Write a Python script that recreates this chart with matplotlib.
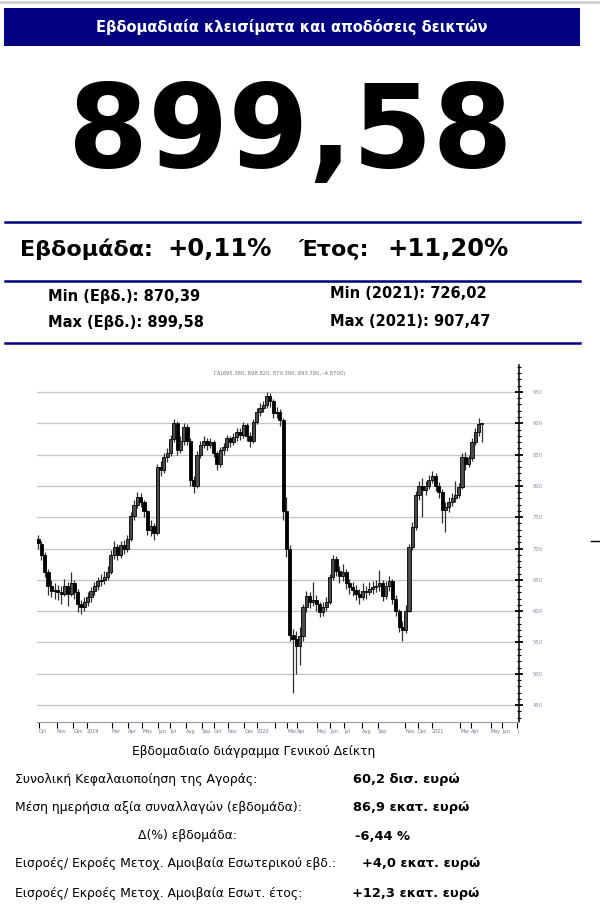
import numpy as np
import matplotlib
matplotlib.use('Agg')
import matplotlib.pyplot as plt
from matplotlib.lines import Line2D
from matplotlib.patches import Rectangle
from matplotlib.ticker import MultipleLocator

# weekly OHLC of the general index, oldest first
first_open = 715
closes = [708, 690, 662, 640, 632, 633, 630, 628, 640, 628,
          645, 630, 612, 606, 615, 622, 632, 640, 648, 650,
          655, 663, 690, 702, 690, 705, 700, 715, 752, 770,
          782, 774, 760, 730, 736, 724, 830, 825, 846, 852,
          875, 900, 858, 872, 894, 872, 809, 800, 850, 866,
          872, 865, 870, 852, 835, 857, 862, 876, 870, 878,
          886, 882, 897, 880, 872, 902, 918, 925, 929, 943,
          935, 916, 918, 905, 760, 700, 562, 555, 545, 560,
          606, 624, 615, 618, 611, 598, 606, 615, 655, 684,
          664, 656, 662, 645, 638, 634, 628, 622, 632, 630,
          636, 638, 640, 645, 624, 640, 648, 620, 600, 574,
          570, 600, 702, 735, 785, 800, 793, 800, 810, 816,
          800, 790, 761, 766, 775, 780, 786, 798, 846, 835,
          845, 870, 886, 898.6, 899.58]
highs = [722, 712, 694, 668, 650, 645, 642, 640, 652, 646,
         662, 650, 635, 618, 622, 630, 638, 646, 655, 660,
         664, 672, 698, 712, 708, 712, 714, 722, 758, 778,
         790, 788, 778, 762, 745, 740, 835, 840, 852, 860,
         882, 906, 904, 880, 900, 898, 876, 815, 856, 872,
         880, 876, 877, 874, 856, 862, 868, 882, 880, 885,
         892, 892, 902, 900, 886, 906, 924, 932, 936, 950,
         948, 938, 926, 922, 908, 782, 705, 572, 568, 575,
         612, 632, 630, 646, 626, 615, 614, 622, 660, 690,
         688, 672, 675, 668, 652, 646, 642, 636, 645, 640,
         646, 648, 650, 665, 650, 648, 656, 652, 626, 604,
         585, 610, 708, 742, 792, 808, 812, 808, 818, 824,
         820, 806, 795, 775, 782, 788, 808, 804, 852, 854,
         850, 876, 892, 908, 899.58]
lows = [700, 682, 655, 625, 622, 620, 618, 612, 624, 608,
        624, 620, 598, 596, 600, 608, 615, 626, 634, 640,
        644, 650, 660, 684, 682, 685, 692, 695, 712, 745,
        764, 766, 750, 722, 720, 714, 722, 815, 820, 838,
        848, 870, 850, 852, 866, 866, 800, 788, 796, 845,
        860, 858, 860, 846, 826, 830, 850, 856, 862, 865,
        872, 874, 876, 872, 862, 868, 898, 912, 918, 925,
        926, 908, 908, 896, 745, 686, 553, 469, 500, 514,
        552, 598, 605, 608, 600, 590, 592, 600, 612, 650,
        656, 645, 648, 636, 628, 624, 618, 612, 618, 620,
        625, 628, 630, 632, 616, 620, 632, 612, 592, 566,
        553, 565, 598, 698, 730, 778, 750, 785, 795, 804,
        792, 780, 740, 726, 758, 768, 774, 780, 795, 826,
        830, 840, 865, 880, 870.39]

# x axis month labels and their week positions
tick_weeks = [0.3, 5.7, 10.6, 14.8, 22.3, 27.2, 31.4, 36.2, 39.8, 44.7,
              49.5, 53.1, 57.3, 62.2, 66.1, 71.5, 75.2, 78.2, 84.2, 88.1,
              92.4, 97.8, 102.6, 110.8, 114.7, 118.9, 127.4, 130.7, 136.7,
              140.1, 144.6]
tick_names = ['Oct', 'Nov', 'Dec', '2019', 'Mar', 'Apr', 'May', 'Jun', 'Jul',
              'Aug', 'Sep', 'Oct', 'Nov', 'Dec', '2020', '', 'Mar', 'Apr',
              'May', 'Jun', 'Jul', 'Aug', 'Sep', 'Nov', 'Dec', '2021', 'Mar',
              'Apr', 'May', 'Jun', 'J']
y_levels = [450, 500, 550, 600, 650, 700, 750, 800, 850, 900, 950]

header = 'Εβδομαδιαία κλεισίματα και αποδόσεις δεικτών'
last_close = '899,58'
week_lbl, week_val = 'Εβδομάδα:', '+0,11%'
year_lbl, year_val = 'Έτος:', '+11,20%'
minmax = ['Min (Εβδ.): 870,39', 'Max (Εβδ.): 899,58',
          'Min (2021): 726,02', 'Max (2021): 907,47']
chart_info = 'ΓΔ(895.380, 898.820, 870.390, 893.780, -4.8700)'
chart_caption = 'Εβδομαδιαίο διάγραμμα Γενικού Δείκτη'
stat_labels = ['Συνολική Κεφαλαιοποίηση της Αγοράς:',
               'Μέση ημερήσια αξία συναλλαγών (εβδομάδα):',
               'Δ(%) εβδομάδα:',
               'Εισροές/ Εκροές Μετοχ. Αμοιβαία Εσωτερικού εβδ.:',
               'Εισροές/ Εκροές Μετοχ. Αμοιβαία Εσωτ. έτος:']
stat_values = ['60,2 δισ. ευρώ', '86,9 εκατ. ευρώ', '-6,44 %',
               '+4,0 εκατ. ευρώ', '+12,3 εκατ. ευρώ']

W, H = 600, 910
NAVY = '#000080'


def fx(px):
    return px / W


def fy(py):
    return 1 - py / H


fig = plt.figure(figsize=(W / 100, H / 100), dpi=100)
fig.patch.set_facecolor('white')

# top shadow line + header bar
fig.add_artist(Line2D([0, 1], [fy(1.5), fy(1.5)], color='#d0d0d0', lw=2))
fig.add_artist(Rectangle((fx(4), fy(46)), fx(576), 38 / H, facecolor=NAVY,
                         edgecolor='none', transform=fig.transFigure))
fig.text(fx(292), fy(27), header, color='white', fontsize=10.5,
         fontweight='bold', ha='center', va='center')

# big number
fig.text(fx(290), fy(135), last_close, fontsize=83, fontweight='bold',
         ha='center', va='center')

for yy in [222, 281, 343]:
    fig.add_artist(Line2D([fx(5), fx(580)], [fy(yy), fy(yy)], color=NAVY, lw=1.8))

fig.text(fx(20), fy(249), week_lbl, fontsize=16, fontweight='bold', va='center')
fig.text(fx(167), fy(249), week_val, fontsize=17.5, fontweight='bold', va='center')
fig.text(fx(299), fy(249), year_lbl, fontsize=16, fontweight='bold', va='center')
fig.text(fx(387), fy(249), year_val, fontsize=17.5, fontweight='bold', va='center')

for txt, (px, py) in zip(minmax, [(48, 296), (48, 322), (330, 294), (330, 321)]):
    fig.text(fx(px), fy(py), txt, fontsize=10.5, fontweight='bold', va='center')

# candlestick chart
ax = fig.add_axes([fx(37), fy(722), fx(519 - 37), (722 - 365) / H])
o = np.array([first_open] + closes[:-1], dtype=float)
c = np.array(closes, dtype=float)
x = np.arange(len(c))
up = c >= o
ax.vlines(x, lows, highs, color='#303030', lw=0.9, zorder=2)
ax.bar(x, np.maximum(np.abs(c - o), 2), bottom=np.minimum(o, c), width=0.95,
       color=np.where(up, '#4a4a4a', 'black'), edgecolor='black', lw=0.6, zorder=3)

ax.set_xlim(-0.3, 145.2)
ax.set_ylim(423, 993)
ax.yaxis.tick_right()
ax.set_yticks(y_levels)
ax.set_yticklabels([str(v) for v in y_levels])
ax.yaxis.set_minor_locator(MultipleLocator(10))
ax.grid(axis='y', color='#c4c4c4', lw=0.9, zorder=0)
ax.set_axisbelow(True)
for s in ['left', 'top']:
    ax.spines[s].set_visible(False)
ax.spines['right'].set_color('black')
ax.spines['right'].set_linewidth(1.1)
ax.spines['bottom'].set_color('#9a9a9a')
ax.tick_params(axis='y', which='major', direction='inout', length=6, width=1.3,
               labelsize=3.8, labelcolor='#8a90b0', pad=7)
ax.tick_params(axis='y', which='minor', direction='inout', length=3, width=0.8)
ax.set_xticks(tick_weeks)
ax.set_xticklabels(tick_names)
ax.tick_params(axis='x', direction='out', length=4, width=0.8, labelsize=3.5,
               labelcolor='#70759a', pad=1)
for lbl in ax.get_xticklabels():
    lbl.set_ha('left')

fig.text(fx(280), fy(373), chart_info, fontsize=3.8, color='#777777',
         ha='center', va='center')
fig.add_artist(Line2D([fx(591), fx(600)], [fy(541), fy(541)], color='black', lw=1))

# stats below
fig.text(fx(254), fy(751), chart_caption, fontsize=8.8, ha='center', va='center')
rows_y = [780, 808, 836, 864, 893]
label_x = [15, 15, 138, 15, 15]
value_x = [353, 353, 355, 362, 352]
for lab, val, yy, lx, vx in zip(stat_labels, stat_values, rows_y, label_x, value_x):
    fig.text(fx(lx), fy(yy), lab, fontsize=8.9, va='center')
    fig.text(fx(vx), fy(yy), val, fontsize=9.4, fontweight='bold', va='center')

fig.savefig('out.png', dpi=100)
